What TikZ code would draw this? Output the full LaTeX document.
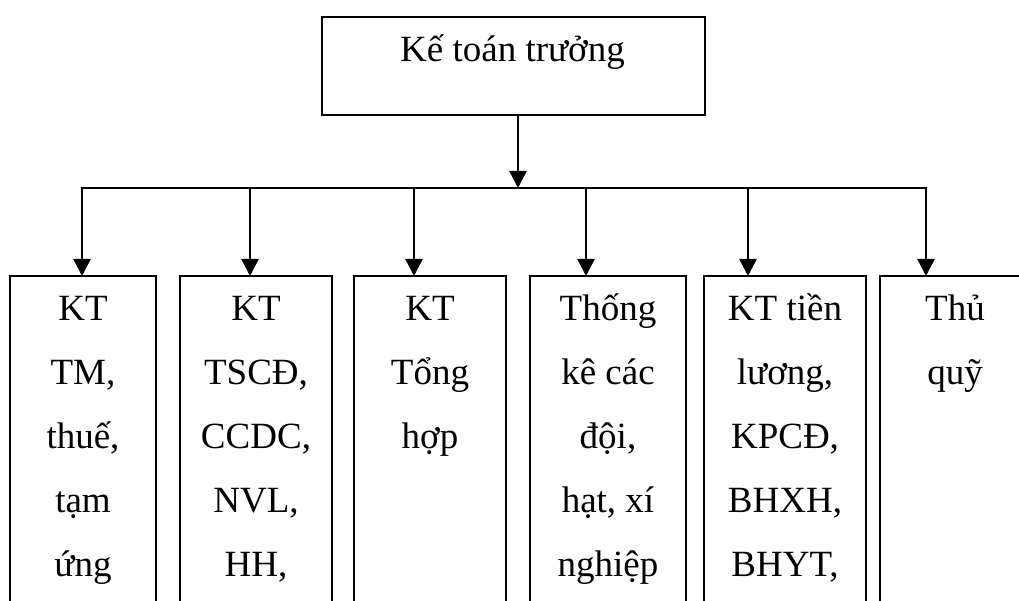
\documentclass[tikz,border=0pt]{standalone}
\usepackage{fontspec}
\setmainfont{Liberation Serif}
\usetikzlibrary{arrows.meta}
\begin{document}
\begin{tikzpicture}[x=1pt,y=-1pt,
  line width=2.5pt,
  unitbox/.style={draw,rectangle,line width=2.5pt,inner sep=0pt,outer sep=0pt},
  lbl/.style={inner sep=0pt,anchor=base,font=\fontsize{37}{64}\selectfont},
  arr/.style={-{Triangle[width=17pt,length=17pt]}}]
\useasboundingbox (0,0) rectangle (1019,601);
\clip (0,0) rectangle (1019,601);

% head of the accounting department
\node[unitbox,minimum width=383pt,minimum height=98pt] (top) at (513.5,66) {};
\node[lbl] (toptxt) at (512.5,62) {Kế toán trưởng};

% subordinate units (boxes run past the lower edge)
\node[unitbox,anchor=north,minimum width=146pt,minimum height=400pt] (b1) at (83,276) {};
\node[unitbox,anchor=north,minimum width=152pt,minimum height=400pt] (b2) at (256,276) {};
\node[unitbox,anchor=north,minimum width=152pt,minimum height=400pt] (b3) at (430,276) {};
\node[unitbox,anchor=north,minimum width=156pt,minimum height=400pt] (b4) at (608,276) {};
\node[unitbox,anchor=north,minimum width=162pt,minimum height=400pt] (b5) at (785,276) {};
\node[unitbox,anchor=north,minimum width=150pt,minimum height=400pt] (b6) at (955,276) {};

\node[lbl] (t1) at (83,320) {\begin{tabular}[t]{@{}c@{}}KT\\TM,\\thuế,\\tạm\\ứng\end{tabular}};
\node[lbl] (t2) at (256,320) {\begin{tabular}[t]{@{}c@{}}KT\\TSCĐ,\\CCDC,\\NVL,\\HH,\end{tabular}};
\node[lbl] (t3) at (430,320) {\begin{tabular}[t]{@{}c@{}}KT\\Tổng\\hợp\end{tabular}};
\node[lbl] (t4) at (608,320) {\begin{tabular}[t]{@{}c@{}}Thống\\kê các\\đội,\\hạt, xí\\nghiệp\end{tabular}};
\node[lbl] (t5) at (785,320) {\begin{tabular}[t]{@{}c@{}}KT tiền\\lương,\\KPCĐ,\\BHXH,\\BHYT,\end{tabular}};
\node[lbl] (t6) at (955,320) {\begin{tabular}[t]{@{}c@{}}Thủ\\quỹ\end{tabular}};

% distribution bus
\coordinate (j) at (518,188);
\coordinate (h1) at (82,188);
\coordinate (h2) at (250,188);
\coordinate (h3) at (414,188);
\coordinate (h4) at (586,188);
\coordinate (h5) at (748,188);
\coordinate (h6) at (926,188);

\draw[arr] (top.south -| j) -- (j);
\draw[line cap=rect] (h1) -- (h6);
\draw[arr] (h1) -- (b1.north -| h1);
\draw[arr] (h2) -- (b2.north -| h2);
\draw[arr] (h3) -- (b3.north -| h3);
\draw[arr] (h4) -- (b4.north -| h4);
\draw[arr] (h5) -- (b5.north -| h5);
\draw[arr] (h6) -- (b6.north -| h6);
\end{tikzpicture}
\end{document}
